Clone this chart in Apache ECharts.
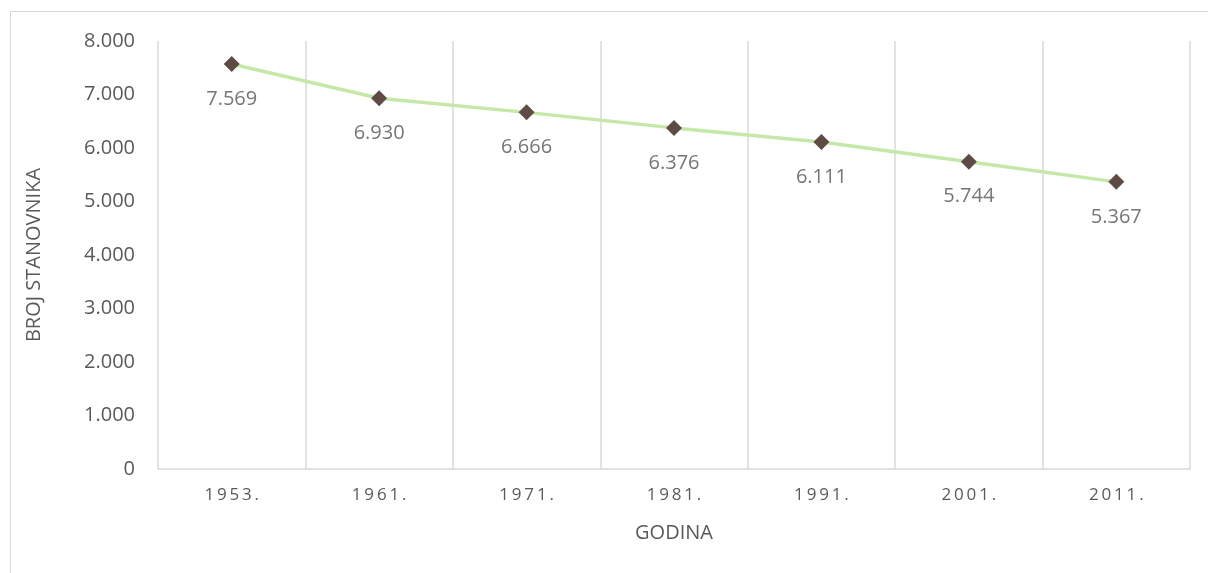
<!DOCTYPE html>
<html>
<head>
<meta charset="utf-8">
<style>
  html, body { margin: 0; padding: 0; background: #fff; }
  #chart { width: 1208px; height: 573px; }
</style>
<script src="https://cdn.jsdelivr.net/npm/echarts@6/dist/echarts.min.js"></script>
</head>
<body>
<div id="chart"></div>
<script>
const years = ['1953.', '1961.', '1971.', '1981.', '1991.', '2001.', '2011.']
const population = [7569, 6930, 6666, 6376, 6111, 5744, 5367]
const yTicks = [0, 1000, 2000, 3000, 4000, 5000, 6000, 7000, 8000]

const fmt = v => String(v).replace(/\B(?=(\d{3})+(?!\d))/g, '.')
const spaced = s => s.split('').join('\u2009')
const font = '"Open Sans", "Noto Sans", sans-serif'

const chart = echarts.init(document.getElementById('chart'))
chart.setOption({
  animation: false,
  textStyle: { fontFamily: font },
  grid: { left: 158, right: 18, top: 41, bottom: 104 },
  graphic: [{
    type: 'rect',
    shape: { x: 10.5, y: 11.5, width: 1220, height: 600 },
    style: { fill: 'none', stroke: '#d9d9d9', lineWidth: 1 },
    silent: true
  }],
  xAxis: {
    type: 'category',
    data: years,
    boundaryGap: true,
    name: 'GODINA',
    nameLocation: 'middle',
    nameGap: 54,
    nameTextStyle: { color: '#595959', fontSize: 20, fontFamily: font },
    axisLine: { lineStyle: { color: '#d9d9d9', width: 1.5 } },
    axisTick: { show: false },
    axisLabel: {
      color: '#595959', fontSize: 17, margin: 18, fontFamily: font,
      formatter: v => spaced(v)
    },
    splitLine: { show: true, lineStyle: { color: '#d9d9d9', width: 1.5 } }
  },
  yAxis: {
    type: 'value',
    min: yTicks[0],
    max: yTicks[yTicks.length - 1],
    interval: yTicks[1] - yTicks[0],
    name: 'BROJ STANOVNIKA',
    nameLocation: 'middle',
    nameGap: 114,
    nameRotate: 90,
    nameTextStyle: { color: '#595959', fontSize: 20, fontFamily: font },
    axisLine: { show: false },
    axisTick: { show: false },
    axisLabel: { color: '#595959', fontSize: 20, margin: 23, fontFamily: font, formatter: v => fmt(v) },
    splitLine: { show: false }
  },
  series: [{
    type: 'line',
    data: population,
    symbol: 'diamond',
    symbolSize: 16,
    itemStyle: { color: '#5e4b46' },
    lineStyle: { color: '#c5e8a8', width: 3.5 },
    label: {
      show: true,
      position: 'bottom',
      distance: 17,
      color: '#767676',
      fontSize: 20,
      fontFamily: font,
      formatter: p => fmt(p.value)
    }
  }]
})
</script>
</body>
</html>
